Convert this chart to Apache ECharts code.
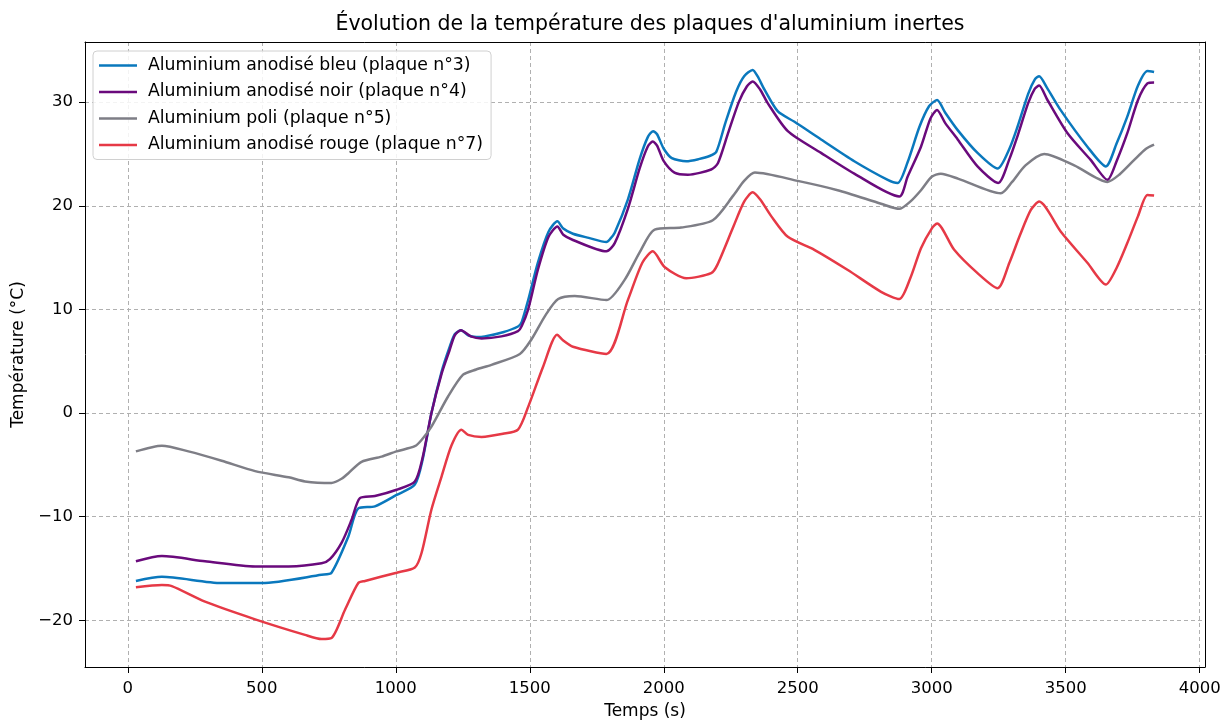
<!DOCTYPE html>
<html>
<head>
<meta charset="utf-8">
<script src="https://cdn.jsdelivr.net/npm/echarts@6/dist/echarts.min.js"></script>
<style>
  html, body { margin: 0; padding: 0; background: #fff; overflow: hidden; }
  #chart { width: 1223px; height: 720px; }
</style>
</head>
<body>
<div id="chart"></div>
<script>
// noms des séries (légende)
var noms = [
    'Aluminium anodisé bleu (plaque n°3)',
    'Aluminium anodisé noir (plaque n°4)',
    'Aluminium poli (plaque n°5)',
    'Aluminium anodisé rouge (plaque n°7)'
];
var couleurs = ['#0a78bd', '#6a0a7c', '#7e7e86', '#e63946'];

// graduations
var ticksX = [0, 500, 1000, 1500, 2000, 2500, 3000, 3500, 4000];
var ticksY = [-20, -10, 0, 10, 20, 30];

// plaque n°3 - bleu
var tBleu = [30, 127, 350, 500, 723, 760, 823, 860, 922, 1003, 1071, 1100, 1133, 1171, 1200, 1220, 1243, 1270, 1300, 1332, 1400, 1456, 1470, 1494, 1530, 1570, 1603, 1625, 1661, 1720, 1786, 1800, 1817, 1866, 1910, 1940, 1960, 1975, 2000, 2030, 2084, 2130, 2171, 2196, 2230, 2270, 2300, 2332, 2350, 2376, 2426, 2488, 2587, 2711, 2836, 2873, 2910, 2954, 2990, 3020, 3050, 3097, 3171, 3246, 3290, 3320, 3360, 3385, 3401, 3430, 3482, 3581, 3650, 3690, 3730, 3770, 3805, 3830];
var vBleu = [-16.2, -15.8, -16.4, -16.4, -15.6, -15.4, -11.9, -9.2, -9.0, -7.9, -6.9, -4.5, 0, 4.0, 6.3, 7.6, 8.0, 7.5, 7.35, 7.4, 7.8, 8.35, 8.8, 10.9, 14.5, 17.5, 18.5, 17.8, 17.3, 16.9, 16.5, 16.8, 17.4, 20.6, 24.5, 26.6, 27.2, 26.9, 25.5, 24.6, 24.3, 24.5, 24.8, 25.2, 28.0, 31.0, 32.5, 33.1, 32.5, 31.2, 29.1, 28.1, 26.4, 24.3, 22.5, 22.2, 24.2, 27.6, 29.6, 30.2, 29.0, 27.3, 25.1, 23.6, 25.5, 27.6, 30.8, 32.2, 32.5, 31.4, 29.2, 25.7, 23.8, 26.0, 28.6, 31.6, 33.0, 32.9];

// plaque n°4 - noir
var tNoir = [30, 127, 288, 475, 600, 723, 754, 798, 835, 866, 922, 1003, 1071, 1100, 1133, 1171, 1200, 1220, 1243, 1280, 1320, 1394, 1456, 1470, 1494, 1530, 1570, 1603, 1625, 1661, 1786, 1817, 1866, 1910, 1940, 1959, 1975, 2000, 2040, 2090, 2177, 2202, 2240, 2280, 2310, 2332, 2360, 2388, 2463, 2587, 2711, 2879, 2910, 2960, 2995, 3020, 3050, 3097, 3171, 3248, 3290, 3320, 3360, 3385, 3401, 3430, 3507, 3594, 3656, 3690, 3730, 3770, 3805, 3830];
var vNoir = [-14.3, -13.8, -14.3, -14.8, -14.8, -14.5, -14.1, -12.5, -10.3, -8.2, -8.0, -7.4, -6.6, -4.3, 0, 3.8, 6.0, 7.5, 8.0, 7.4, 7.2, 7.4, 7.9, 8.4, 10.0, 13.8, 17.0, 18.0, 17.2, 16.7, 15.6, 16.4, 19.7, 23.6, 25.7, 26.2, 25.8, 24.3, 23.2, 23.0, 23.5, 24.1, 27.0, 30.0, 31.5, 32.0, 31.2, 29.9, 27.2, 25.1, 23.1, 20.9, 22.8, 25.7, 28.4, 29.25, 28.0, 26.4, 23.8, 22.2, 24.5, 26.7, 29.9, 31.3, 31.6, 30.3, 27.0, 24.4, 22.5, 24.3, 27.0, 30.2, 31.8, 31.9];

// plaque n°5 - poli
var tPoli = [30, 127, 226, 350, 475, 600, 661, 760, 800, 823, 872, 947, 1003, 1071, 1096, 1133, 1195, 1251, 1300, 1357, 1463, 1506, 1560, 1606, 1668, 1786, 1854, 1910, 1966, 2065, 2183, 2260, 2300, 2340, 2500, 2649, 2811, 2879, 2920, 2960, 3000, 3034, 3100, 3258, 3300, 3350, 3420, 3532, 3656, 3700, 3755, 3800, 3830];
var vPoli = [-3.7, -3.15, -3.7, -4.6, -5.6, -6.2, -6.6, -6.75, -6.3, -5.8, -4.7, -4.2, -3.7, -3.2, -2.6, -1.3, 1.6, 3.7, 4.2, 4.65, 5.7, 7.1, 9.5, 11.0, 11.3, 10.9, 12.85, 15.5, 17.7, 17.9, 18.6, 21.0, 22.4, 23.2, 22.4, 21.5, 20.2, 19.7, 20.4, 21.5, 22.8, 23.1, 22.6, 21.2, 22.3, 23.9, 25.0, 23.9, 22.3, 23.0, 24.4, 25.5, 25.9];

// plaque n°7 - rouge
var tRouge = [30, 127, 164, 288, 475, 661, 723, 760, 810, 860, 885, 1003, 1071, 1096, 1133, 1171, 1208, 1245, 1270, 1320, 1400, 1456, 1494, 1550, 1602, 1625, 1661, 1786, 1866, 1920, 1959, 2003, 2084, 2177, 2200, 2260, 2300, 2332, 2360, 2401, 2463, 2562, 2687, 2811, 2879, 2920, 2960, 3000, 3020, 3084, 3171, 3246, 3290, 3330, 3370, 3401, 3482, 3581, 3650, 3690, 3730, 3770, 3805, 3830];
var vRouge = [-16.8, -16.6, -16.7, -18.2, -19.9, -21.4, -21.8, -21.7, -19.0, -16.4, -16.2, -15.4, -14.9, -13.5, -9.3, -6.1, -3.1, -1.6, -2.1, -2.3, -2.0, -1.6, 0.6, 4.5, 7.55, 7.0, 6.4, 5.7, 10.9, 14.5, 15.6, 14.1, 13.0, 13.5, 14.3, 18.0, 20.4, 21.3, 20.6, 19.0, 17.0, 15.75, 13.8, 11.7, 11.0, 13.0, 15.9, 17.8, 18.3, 15.75, 13.5, 12.05, 14.5, 17.2, 19.6, 20.4, 17.5, 14.5, 12.4, 14.0, 16.4, 19.0, 21.05, 21.0];

var temps = [tBleu, tNoir, tPoli, tRouge];
var valeurs = [vBleu, vNoir, vPoli, vRouge];

var police = 'DejaVu Sans';
var xMin = -160, xMax = 4020, yMin = -24.5, yMax = 35.8;

function paires(t, v){
    return t.map(function (x, i) { return [x, v[i]]; });
}

var series = noms.map(function (nom, i) {
    return {
        name: nom,
        type: 'line',
        data: paires(temps[i], valeurs[i]),
        showSymbol: false,
        smooth: 0.25,
        lineStyle: { width: 2.5, color: couleurs[i] },
        itemStyle: { color: couleurs[i] }
    };
});

var grille = { color: '#b0b0b0', type: [4, 3], width: 1 };
var cadre = { show: true, onZero: false, lineStyle: { color: '#000', width: 1 } };

var chart = echarts.init(document.getElementById('chart'));
var option = {
    animation: false,
    title: {
        text: "Évolution de la température des plaques d'aluminium inertes",
        left: 645,
        textAlign: 'center',
        top: 9,
        textStyle: { fontFamily: police, fontSize: 20.5, fontWeight: 'normal', color: '#000' }
    },
    legend: {
        data: noms,
        orient: 'vertical',
        left: 93,
        top: 51,
        padding: [6, 8, 6, 6],
        itemWidth: 38,
        itemHeight: 2.5,
        itemGap: 9.5,
        icon: 'rect',
        backgroundColor: 'rgba(255,255,255,0.85)',
        borderColor: '#d0d0d0',
        borderWidth: 1,
        borderRadius: 4,
        textStyle: { fontFamily: police, fontSize: 17.3, color: '#000', padding: [0, 0, 0, 6] }
    },
    grid: {
        left: 85, width: 1120, top: 42, height: 625,
        containLabel: false,
        outerBoundsMode: 'none'
    },
    xAxis: [{
        type: 'value',
        min: xMin,
        max: xMax,
        splitNumber: 8,
        minInterval: 500,
        maxInterval: 500,
        name: 'Temps (s)',
        nameLocation: 'middle',
        nameGap: 36,
        nameTextStyle: { fontFamily: police, fontSize: 17, color: '#000' },
        axisLine: cadre,
        axisTick: { show: true, length: 6, customValues: ticksX, lineStyle: { color: '#000' } },
        axisLabel: {
            fontFamily: police, fontSize: 16.5, color: '#000', margin: 13,
            customValues: ticksX,
            formatter: function (v) { return v % 500 === 0 ? String(v) : ''; }
        },
        splitLine: { show: true, lineStyle: grille }
    }, {
        // bord supérieur du cadre
        type: 'value', position: 'top', min: xMin, max: xMax,
        axisLine: cadre, axisTick: { show: false }, axisLabel: { show: false }, splitLine: { show: false }
    }],
    yAxis: [{
        type: 'value',
        min: yMin,
        max: yMax,
        splitNumber: 6,
        minInterval: 10,
        maxInterval: 10,
        name: 'Température (°C)',
        nameLocation: 'middle',
        nameGap: 52,
        nameTextStyle: { fontFamily: police, fontSize: 17, color: '#000' },
        axisLine: cadre,
        axisTick: { show: true, length: 6, customValues: ticksY, lineStyle: { color: '#000' } },
        axisLabel: {
            fontFamily: police, fontSize: 16.5, color: '#000', margin: 12,
            customValues: ticksY,
            formatter: function (v) {
                if (Math.abs(v % 10) > 1e-6) return '';
                return String(v).replace('-', '\u2212');
            }
        },
        splitLine: { show: true, lineStyle: grille }
    }, {
        // bord droit du cadre
        type: 'value', position: 'right', min: yMin, max: yMax,
        axisLine: cadre, axisTick: { show: false }, axisLabel: { show: false }, splitLine: { show: false }
    }],
    series: series
};
chart.setOption(option);
</script>
</body>
</html>
